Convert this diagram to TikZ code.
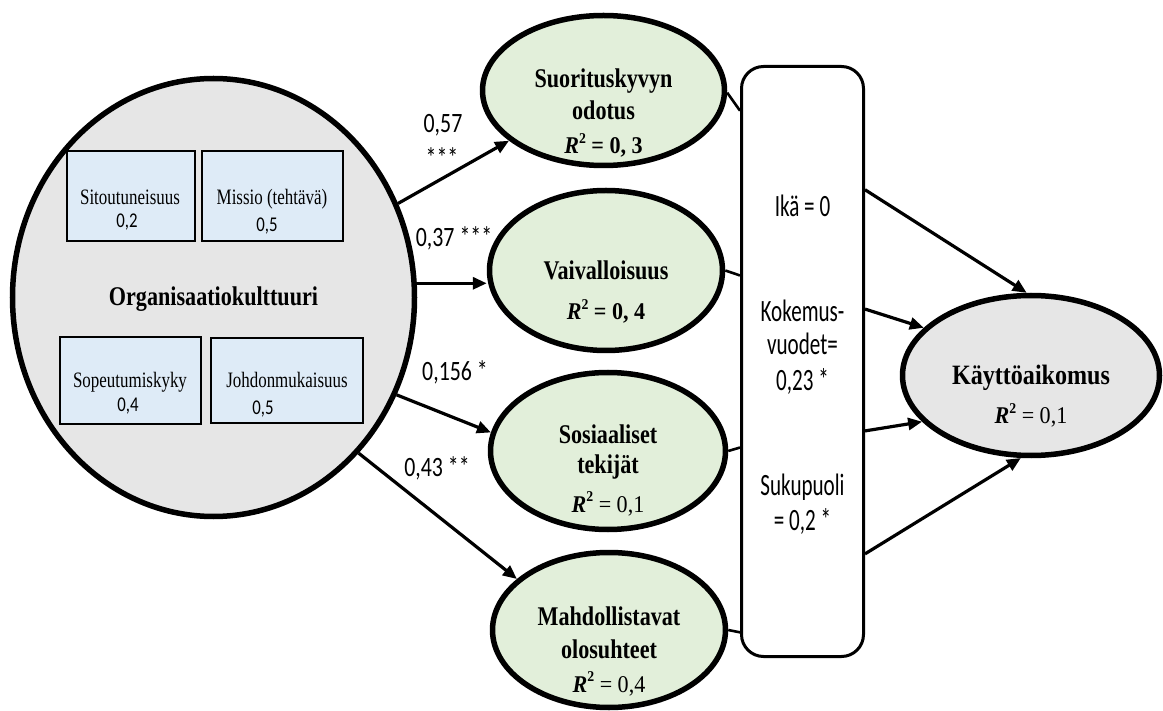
\documentclass[tikz,border=0pt]{standalone}
\usepackage{fontspec}
\setmainfont{Liberation Serif}
\newfontfamily\ttlfont[FakeStretch=0.82]{Liberation Serif}
\newfontfamily\kayfont[FakeStretch=0.86]{Liberation Serif}
\newfontfamily\smlfont[FakeStretch=0.77]{Liberation Serif}
\newfontfamily\rfont[FakeStretch=0.92]{Liberation Serif}
\newfontfamily\boxfont[FakeStretch=0.68]{Carlito}
\newfontfamily\lblfont[FakeStretch=0.78]{Carlito}
\newfontfamily\numfont[FakeStretch=0.8]{Carlito}
\usetikzlibrary{shapes.geometric,arrows.meta}
\definecolor{orgfill}{HTML}{E6E6E6}
\definecolor{grnfill}{HTML}{E2EFDA}
\definecolor{bluefill}{HTML}{DEEBF7}
\newcommand\Rtwo{{\bfseries\itshape R}\raisebox{0.42em}{\fontsize{15}{15}\selectfont\bfseries 2}}
\begin{document}
\begin{tikzpicture}[x=1pt,y=-1pt,
  bigell/.style={ellipse, draw, line width=5.5pt, fill=orgfill, inner sep=0pt},
  grnell/.style={ellipse, draw, line width=5.5pt, fill=grnfill, inner sep=0pt},
  kayell/.style={ellipse, draw, line width=5.5pt, fill=orgfill, inner sep=0pt},
  subbox/.style={rectangle, draw, line width=1.2pt, fill=bluefill, inner sep=0pt},
  modbox/.style={rectangle, draw, line width=3pt, rounded corners=22pt, fill=white, inner sep=0pt},
  ttl/.style={anchor=base, inner sep=0pt, font=\ttlfont\bfseries\fontsize{27}{27}\selectfont},
  kayttl/.style={anchor=base, inner sep=0pt, font=\kayfont\bfseries\fontsize{28}{28}\selectfont},
  rlab/.style={anchor=base, inner sep=0pt, font=\rfont\fontsize{24}{24}\selectfont},
  sml/.style={anchor=base, inner sep=0pt, font=\smlfont\fontsize{22}{22}\selectfont},
  num/.style={anchor=base, inner sep=0pt, font=\numfont\fontsize{21}{21}\selectfont},
  boxt/.style={anchor=base, inner sep=0pt, font=\boxfont\fontsize{31}{31}\selectfont},
  lbl/.style={anchor=base, inner sep=0pt, font=\lblfont\fontsize{28}{28}\selectfont},
  arr/.style={line width=3.2pt, -{Triangle[length=14pt,width=12pt]}},
  lnk/.style={line width=2.6pt},
]
\fill[white] (0,0) rectangle (1163,711);
\useasboundingbox (0,0) rectangle (1163,711);

% main nodes
\node[bigell, minimum width=402pt, minimum height=438pt] (org) at (213.5,297.5) {};
\node[grnell, minimum width=242pt, minimum height=150pt] (suo) at (603.5,90.5) {};
\node[grnell, minimum width=233pt, minimum height=160pt] (vai) at (606,270.5) {};
\node[grnell, minimum width=235pt, minimum height=157pt] (sos) at (608,451) {};
\node[grnell, minimum width=233pt, minimum height=155pt] (mah) at (609,630) {};
\node[kayell, minimum width=257pt, minimum height=160pt] (kay) at (1031,375.5) {};
\node[modbox, minimum width=122pt, minimum height=590pt] (mod) at (802.5,361.5) {};

% sub boxes
\node[subbox, minimum width=128pt, minimum height=90pt] (b1) at (131,196) {};
\node[subbox, minimum width=141pt, minimum height=90pt] (b2) at (272.5,196) {};
\node[subbox, minimum width=141pt, minimum height=87pt] (b3) at (130.5,380.5) {};
\node[subbox, minimum width=152pt, minimum height=85pt] (b4) at (287,380.5) {};

% sub box texts
\node[sml] (b1a) at (130,205) {Sitoutuneisuus};
\node[num] (b1b) at (127,228) {0,2};
\node[sml] (b2a) at (272,205) {Missio (tehtävä)};
\node[num] (b2b) at (267,232) {0,5};
\node[sml] (b3a) at (130,388) {Sopeutumiskyky};
\node[num] (b3b) at (128,412) {0,4};
\node[sml] (b4a) at (287,388) {Johdonmukaisuus};
\node[num] (b4b) at (263,415) {0,5};

% titles
\node[ttl] (orgt) at (213.5,306) {Organisaatiokulttuuri};
\node[ttl] (suot1) at (603.5,88) {Suorituskyvyn};
\node[ttl] (suot2) at (603.5,120) {odotus};
\node[rlab] (suor) at (603.5,154) {\Rtwo\ \textbf{= 0, 3}};
\node[ttl] (vait) at (606,280) {Vaivalloisuus};
\node[rlab] (vair) at (606,320) {\Rtwo\ \textbf{= 0, 4}};
\node[ttl] (sost1) at (608,443) {Sosiaaliset};
\node[ttl] (sost2) at (608,474) {tekijät};
\node[rlab] (sosr) at (608,512) {\Rtwo\ = 0,1};
\node[ttl] (maht1) at (609,625) {Mahdollistavat};
\node[ttl] (maht2) at (609,658) {olosuhteet};
\node[rlab] (mahr) at (609,692) {\Rtwo\ = 0,4};
\node[kayttl] (kayt) at (1031,385) {Käyttöaikomus};
\node[rlab] (kayr) at (1031,424) {\Rtwo\ = 0,1};

% moderator texts
\node[boxt] (m1) at (802.5,217) {Ikä = 0};
\node[boxt] (m2) at (802.5,322) {Kokemus-};
\node[boxt] (m3) at (802.5,355) {vuodet=};
\node[boxt] (m4) at (802.5,391) {0,23 *};
\node[boxt] (m5) at (802.5,495) {Sukupuoli};
\node[boxt] (m6) at (802.5,530) {= 0,2 *};

% arrow labels
\node[lbl] (l1) at (443,133) {0,57};
\node[lbl] (l1s) at (442,168) {***};
\node[lbl] (l2) at (454,247) {0,37 ***};
\node[lbl] (l3) at (455,381) {0,156 *};
\node[lbl] (l4) at (437,476) {0,43 **};

% connectors from organisation culture
\draw[arr] (org.27) -- (suo.208);
\draw[arr] (org.4) -- (org.4 -| vai.west);
\draw[arr] (org.-28) -- (sos.171);
\draw[arr] (org.-47) -- (mah.151);

% ellipses to moderator box
\draw[lnk] (suo.-1) -- (mod.104);
\draw[lnk] (vai.0) -- (mod.126);
\draw[lnk] (sos.0) -- (mod.234);
\draw[lnk] (mah.0) -- (mod.257);

% moderator box to intention
\draw[arr] (mod.70) -- (kay.93);
\draw[arr] (mod.40) -- (kay.156);
\draw[arr] (mod.-48) -- (kay.203);
\draw[arr] (mod.-72) -- (kay.263);
\end{tikzpicture}
\end{document}
